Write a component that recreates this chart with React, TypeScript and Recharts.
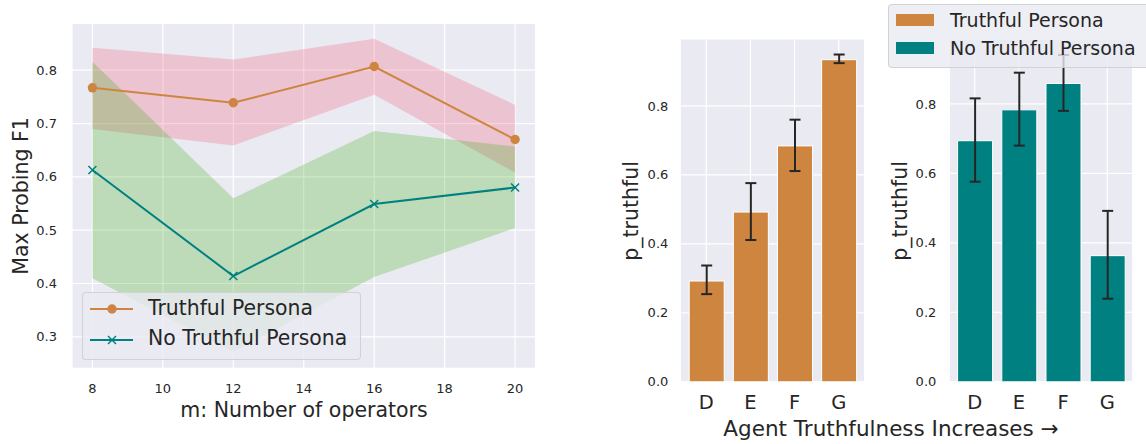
import React from "react"
import {
  Area,
  Bar,
  BarChart,
  CartesianGrid,
  ComposedChart,
  ErrorBar,
  Line,
  XAxis,
  YAxis,
} from "recharts"

// left panel: probing F1 vs number of operators
const operators = [8, 12, 16, 20]
const truthfulF1 = [0.767, 0.739, 0.807, 0.67]
const truthfulF1Low = [0.69, 0.659, 0.754, 0.608]
const truthfulF1High = [0.842, 0.82, 0.859, 0.735]
const noTruthF1 = [0.613, 0.414, 0.549, 0.58]
const noTruthF1Low = [0.41, 0.272, 0.412, 0.504]
const noTruthF1High = [0.816, 0.56, 0.686, 0.657]
const f1Ticks = [0.3, 0.4, 0.5, 0.6, 0.7, 0.8]
const operatorTicks = [8, 10, 12, 14, 16, 18, 20]

// right panels: p_truthful per agent
const agents = ["D", "E", "F", "G"]
const truthfulP = [0.292, 0.492, 0.684, 0.934]
const truthfulPLow = [0.254, 0.411, 0.611, 0.924]
const truthfulPHigh = [0.337, 0.576, 0.76, 0.949]
const noTruthP = [0.694, 0.783, 0.859, 0.363]
const noTruthPLow = [0.576, 0.68, 0.78, 0.239]
const noTruthPHigh = [0.816, 0.89, 0.941, 0.492]
const pTicks = [0, 0.2, 0.4, 0.6, 0.8]

const ORANGE = "#CD853F"
const TEAL = "#008080"
const BG = "#EAEAF2"
const TEXT = "#262626"
const FONT = "DejaVu Sans"

const lineData = operators.map((m, i) => ({
  m,
  truthful: truthfulF1[i],
  truthfulBand: [truthfulF1Low[i], truthfulF1High[i]],
  noTruth: noTruthF1[i],
  noTruthBand: [noTruthF1Low[i], noTruthF1High[i]],
}))

const barRows = (mean: number[], low: number[], high: number[]) =>
  agents.map((a, i) => ({ agent: a, mean: mean[i], err: [mean[i] - low[i], high[i] - mean[i]] }))

const truthfulRows = barRows(truthfulP, truthfulPLow, truthfulPHigh)
const noTruthRows = barRows(noTruthP, noTruthPLow, noTruthPHigh)

const tickStyle = { fill: TEXT, fontSize: 13, fontFamily: FONT }

function XMark(props: any) {
  const { cx, cy, index } = props
  return (
    <path
      key={`x-${index}`}
      d={`M${cx - 4},${cy - 4}L${cx + 4},${cy + 4}M${cx - 4},${cy + 4}L${cx + 4},${cy - 4}`}
      stroke={TEAL}
      strokeWidth={1.5}
      fill="none"
    />
  )
}

function YLabel({ text, x, y }: { text: string; x: number; y: number }) {
  return (
    <div
      style={{
        position: "absolute",
        left: x,
        top: y,
        transform: "translate(-50%, -50%) rotate(-90deg)",
        fontSize: 20.5,
        lineHeight: 1,
        whiteSpace: "nowrap",
        color: TEXT,
      }}
    >
      {text}
    </div>
  )
}

function F1Chart() {
  return (
    <div style={{ position: "absolute", left: 0, top: 0 }}>
      <ComposedChart
        width={560}
        height={444}
        data={lineData}
        margin={{ top: 23.3, right: 24.5, bottom: 45.7, left: 12 }}
      >
        <CartesianGrid fill={BG} stroke="#fff" strokeWidth={1.2} />
        <XAxis
          dataKey="m"
          type="number"
          domain={[7.42, 20.58]}
          ticks={operatorTicks}
          allowDataOverflow
          axisLine={false}
          tickLine={false}
          tickSize={0}
          tickMargin={15}
          height={30}
          tick={tickStyle}
        />
        <YAxis
          type="number"
          domain={[0.241, 0.888]}
          ticks={f1Ticks}
          allowDataOverflow
          axisLine={false}
          tickLine={false}
          tickSize={0}
          tickMargin={15}
          width={60}
          tick={tickStyle}
          tickFormatter={(v: number) => v.toFixed(1)}
        />
        <Area
          dataKey="truthfulBand"
          type="linear"
          stroke="none"
          fill="#F04E6E"
          fillOpacity={0.25}
          isAnimationActive={false}
          activeDot={false}
        />
        <Area
          dataKey="noTruthBand"
          type="linear"
          stroke="none"
          fill="#36AA0E"
          fillOpacity={0.25}
          isAnimationActive={false}
          activeDot={false}
        />
        <Line
          dataKey="truthful"
          type="linear"
          stroke={ORANGE}
          strokeWidth={2}
          dot={{ r: 4.7, fill: ORANGE, stroke: ORANGE, strokeWidth: 0 }}
          activeDot={false}
          isAnimationActive={false}
        />
        <Line
          dataKey="noTruth"
          type="linear"
          stroke={TEAL}
          strokeWidth={2}
          dot={XMark}
          activeDot={false}
          isAnimationActive={false}
        />
      </ComposedChart>
    </div>
  )
}

function PChart({
  rows,
  color,
  left,
  width,
  margin,
  domainMax,
  pad,
  tickGap,
}: {
  rows: any[]
  color: string
  left: number
  width: number
  margin: { top: number; right: number; bottom: number; left: number }
  domainMax: number
  pad: number
  tickGap: number
}) {
  return (
    <div style={{ position: "absolute", left, top: 0 }}>
      <BarChart width={width} height={444} data={rows} margin={margin} barSize={35}>
        <CartesianGrid fill={BG} stroke="#fff" strokeWidth={1.2} />
        <XAxis
          dataKey="agent"
          axisLine={false}
          tickLine={false}
          tickSize={0}
          tickMargin={13}
          height={30}
          padding={{ left: pad, right: pad }}
          tick={{ fill: TEXT, fontSize: 19.5, fontFamily: FONT }}
        />
        <YAxis
          type="number"
          domain={[0, domainMax]}
          ticks={pTicks}
          allowDataOverflow
          axisLine={false}
          tickLine={false}
          tickSize={0}
          tickMargin={tickGap}
          width={40}
          tick={tickStyle}
          tickFormatter={(v: number) => v.toFixed(1)}
        />
        <Bar dataKey="mean" fill={color} stroke="#fff" strokeWidth={1} isAnimationActive={false}>
          <ErrorBar dataKey="err" direction="y" width={5.5} stroke={TEXT} strokeWidth={2} />
        </Bar>
      </BarChart>
    </div>
  )
}

export default function App() {
  return (
    <div
      style={{
        position: "absolute",
        left: 0,
        top: 0,
        width: 1146,
        height: 444,
        background: "#fff",
        fontFamily: FONT,
        color: TEXT,
        overflow: "hidden",
      }}
    >
      <F1Chart />
      <PChart
        rows={truthfulRows}
        color={ORANGE}
        left={620}
        width={260}
        margin={{ top: 39, right: 15.3, bottom: 32.3, left: 20.3 }}
        domainMax={0.994}
        pad={3.9}
        tickGap={12}
      />
      <PChart
        rows={noTruthRows}
        color={TEAL}
        left={890}
        width={256}
        margin={{ top: 39, right: 13.3, bottom: 32.3, left: 19.3 }}
        domainMax={0.987}
        pad={3.3}
        tickGap={13}
      />

      <YLabel text="Max Probing F1" x={20.5} y={196} />
      <YLabel text="p_truthful" x={630.5} y={211} />
      <YLabel text="p_truthful" x={900} y={211} />

      <div
        style={{
          position: "absolute",
          left: 304,
          top: 400,
          transform: "translateX(-50%)",
          fontSize: 20.5,
          lineHeight: 1,
          whiteSpace: "nowrap",
        }}
      >
        m: Number of operators
      </div>
      <div
        style={{
          position: "absolute",
          left: 891,
          top: 418,
          transform: "translateX(-50%)",
          fontSize: 21.5,
          lineHeight: 1,
          whiteSpace: "nowrap",
        }}
      >
        Agent Truthfulness Increases →
      </div>

      {/* legend of the line panel */}
      <div
        style={{
          position: "absolute",
          left: 82,
          top: 292,
          width: 277,
          height: 66,
          background: "rgba(234,234,242,0.8)",
          border: "1px solid rgba(204,204,204,0.8)",
          borderRadius: 4,
          fontSize: 20.4,
          lineHeight: 1,
        }}
      >
        <svg style={{ position: "absolute", left: 6, top: 0 }} width={45} height={66}>
          <line x1={1} y1={16} x2={44} y2={16} stroke={ORANGE} strokeWidth={2} />
          <circle cx={23} cy={16} r={4.7} fill={ORANGE} />
          <line x1={1} y1={47} x2={44} y2={47} stroke={TEAL} strokeWidth={2} />
          <path d="M19,43L27,51M19,51L27,43" stroke={TEAL} strokeWidth={1.5} />
        </svg>
        <div style={{ position: "absolute", left: 65, top: 5, whiteSpace: "nowrap" }}>Truthful Persona</div>
        <div style={{ position: "absolute", left: 65, top: 35, whiteSpace: "nowrap" }}>No Truthful Persona</div>
      </div>

      {/* legend of the bar panels */}
      <div
        style={{
          position: "absolute",
          left: 887.7,
          top: 4,
          width: 280,
          height: 62,
          background: "rgba(234,234,242,0.8)",
          border: "1px solid rgba(204,204,204,0.8)",
          borderRadius: 4,
          fontSize: 19,
          lineHeight: 1,
        }}
      >
        <div style={{ position: "absolute", left: 7, top: 8.5, width: 38, height: 12.4, background: ORANGE }} />
        <div style={{ position: "absolute", left: 7, top: 37, width: 38, height: 12.4, background: TEAL }} />
        <div style={{ position: "absolute", left: 61.3, top: 5.5, whiteSpace: "nowrap" }}>Truthful Persona</div>
        <div style={{ position: "absolute", left: 61.3, top: 33.8, whiteSpace: "nowrap" }}>No Truthful Persona</div>
      </div>
    </div>
  )
}
